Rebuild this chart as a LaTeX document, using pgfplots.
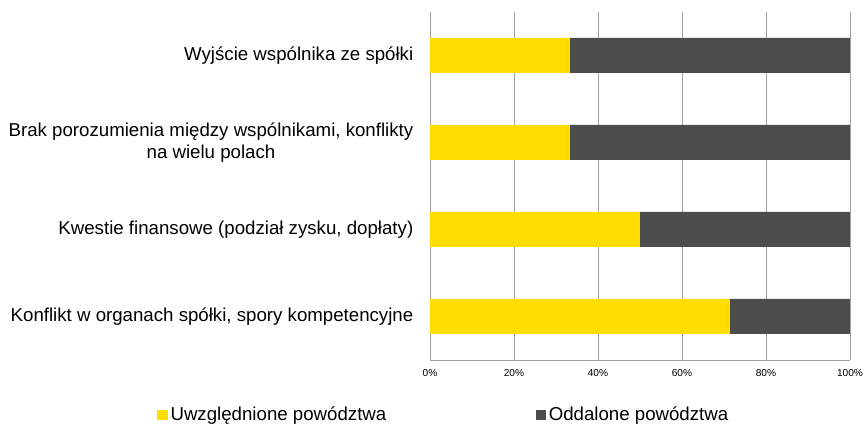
\documentclass[border=0pt]{standalone}
\usepackage{pgfplots}
\pgfplotsset{compat=1.18}
\usepackage{fontspec}
\setmainfont{Liberation Sans}
\definecolor{ey}{HTML}{FFDD00}
\definecolor{dk}{HTML}{4D4D4D}
\definecolor{gl}{HTML}{A0A0A0}
\begin{document}
\begin{tikzpicture}
\begin{axis}[
  scale only axis,
  width=315pt, height=261pt,
  xbar stacked,
  bar width=26.25pt,
  xmin=0, xmax=100,
  ymin=-0.5, ymax=3.5,
  axis x line*=bottom, axis y line*=left,
  axis line style={-, draw=gl},
  xtick={0,20,40,60,80,100},
  xticklabel={\pgfmathprintnumber{\tick}\%},
  xticklabel style={font=\fontsize{7.6}{9}\selectfont, yshift=-3.5pt},
  /pgf/number format/assume math mode=true,
  major x tick style={draw=none},
  xmajorgrids, grid style={draw=gl, line width=0.6pt},
  ytick={0,1,2,3},
  yticklabels={{Konflikt w organach spółki, spory kompetencyjne},
    {Kwestie finansowe (podział zysku, dopłaty)},
    {Brak porozumienia między wspólnikami, konflikty\\na wielu polach},
    {Wyjście wspólnika ze spółki}},
  yticklabel style={font=\fontsize{14}{16.5}\selectfont, align=center, xshift=-9pt, text=black},
  major y tick style={draw=none},
  extra y ticks={-0.5,0.5,1.5,2.5,3.5},
  extra y tick labels={},
  extra y tick style={tick align=outside, major tick length=3.75pt, major tick style={draw=gl, line width=0.6pt}, grid=none},
  legend columns=2,
  legend style={draw=none, fill=none, at={(-0.659,-0.158)}, anchor=west,
    font=\fontsize{14}{16}\selectfont,
    /tikz/every even column/.append style={column sep=110pt}},
  legend image code/.code={\fill[#1] (0pt,-3.9pt) rectangle (7.8pt,3.9pt);},
]
\addplot[fill=ey, draw=none] coordinates {(71.4,0) (50,1) (33.3,2) (33.3,3)};
\addlegendentry{Uwzględnione powództwa}
\addplot[fill=dk, draw=none] coordinates {(28.6,0) (50,1) (66.7,2) (66.7,3)};
\addlegendentry{Oddalone powództwa}
\end{axis}
\pgfresetboundingbox
\path[use as bounding box] (current axis.south west) ++(-322.5pt,-48pt) rectangle ++(648pt,318pt);
\end{tikzpicture}
\end{document}
